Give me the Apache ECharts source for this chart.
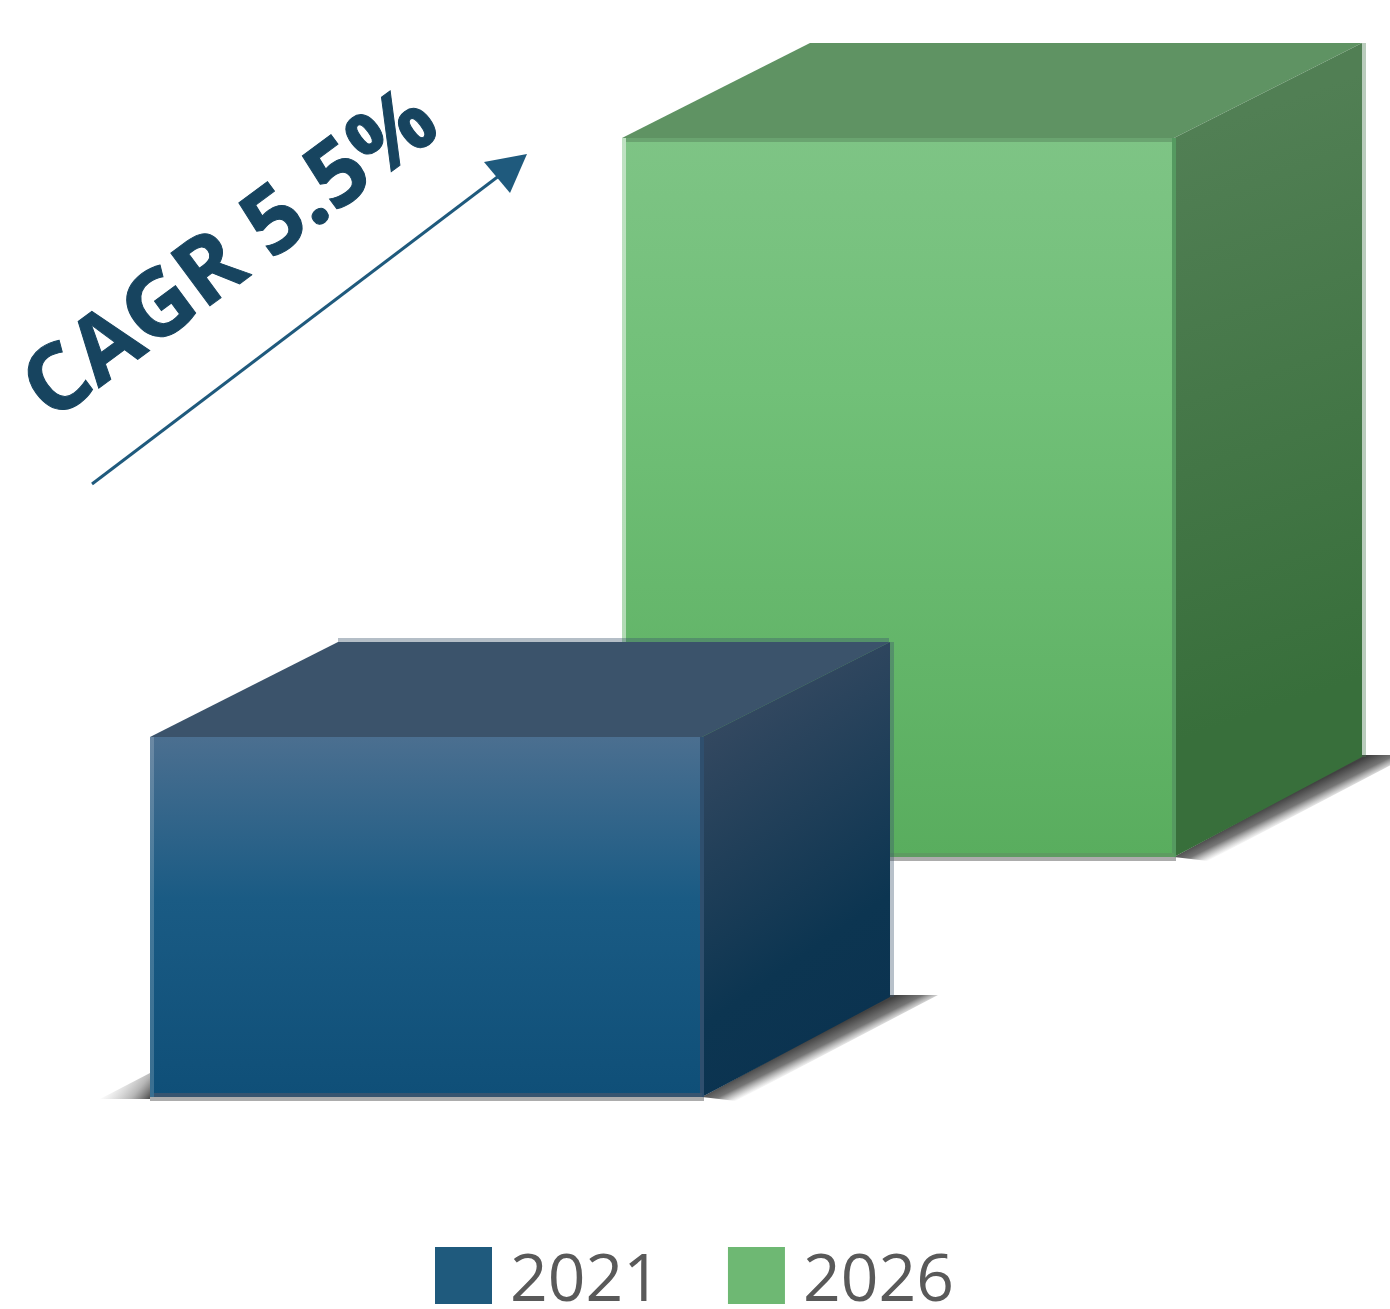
<!DOCTYPE html>
<html>
<head>
<meta charset="utf-8">
<title>CAGR 5.5%</title>
<style>
  html, body { margin: 0; padding: 0; background: #fff; }
  #chart { width: 1390px; height: 1309px; }
</style>
<script src="https://cdn.jsdelivr.net/npm/echarts@6/dist/echarts.min.js"></script>
</head>
<body>
<div id="chart"></div>
<script>
// Market size index by year; the drawing has no value axis, only relative heights
const years = ['2021', '2026'];
const marketIndex2021 = [100];
const marketIndex2026 = [199.7];
const growthLabel = 'CAGR 5.5%';

const DEPTH_X = 188, DEPTH_Y = 95;   // oblique projection of a box's depth
const ROW_LIFT = 240;                // later years stand one row further back
const BOX_W = 552, EDGE = 4;

const palettes = {
  '2021': {
    legend: '#1F5A7D',
    top: '#3B536B',
    rim: 'rgba(59,83,107,0.38)',
    frontTop: 'rgba(0,0,0,0)',
    front: [[0, '#4B6F90'], [0.45, '#1A5B84'], [1, '#0F4F78']],
    side: [[0, '#334860'], [0.72, '#0C3551'], [1, '#0B3350']],
    leftOpacity: 0.82,
    frontRight: '#2F4F6E',
    frontBottom: '#37546F',
    backEdge: 'rgba(59,83,107,0.36)'
  },
  '2026': {
    legend: '#6EB873',
    top: '#5F9363',
    rim: 'rgba(0,0,0,0)',
    frontTop: '#6AA470',
    front: [[0, '#7EC485'], [0.35, '#71C078'], [1, '#59AD5E']],
    side: [[0, '#517F54'], [1, '#386F3B']],
    leftOpacity: 0.5,
    frontRight: '#559A60',
    frontBottom: '#5C9C60',
    backEdge: 'rgba(70,120,78,0.38)'
  }
};

const stops = s => s.map(([offset, color]) => ({ offset, color }));
const gradient = (x, y, x2, y2, s) => ({ type: 'linear', global: true, x, y, x2, y2, colorStops: stops(s) });
const poly = (points, fill, z2) => ({ type: 'polygon', z2, shape: { points }, style: { fill } });
const rect = (x, y, width, height, fill, z2, opacity) => ({
  type: 'rect', z2, shape: { x, y, width, height },
  style: opacity === undefined ? { fill } : { fill, opacity }
});

// Draws one oblique box: its front height comes from the value axis, its row from the year
function renderBox(params, api) {
  const p = palettes[years[api.value(0)]];
  const slot = api.value(0);
  const base = api.coord([slot, 0]);
  const peak = api.coord([slot, api.value(1)]);
  const l = base[0] - BOX_W / 2, r = l + BOX_W;
  const b = base[1] - ROW_LIFT * slot, t = peak[1] - ROW_LIFT * slot;
  const backR = r + DEPTH_X, backL = l + DEPTH_X;
  const backB = b - DEPTH_Y - 5, backT = t - DEPTH_Y;

  const frontFill = gradient(0, t, 0, b, p.front);
  const shadowFade = [[0, 'rgba(62,62,62,0.98)'], [0.5, 'rgba(84,84,84,0.8)'], [1, 'rgba(130,130,130,0)']];
  const children = [
    // Cast shadows at the right-hand side and the front-left corner
    poly([[r, b], [backR, backB - 2], [backR + 48, backB - 2], [r + 34, b + 4]],
      gradient(r, b - 4, r + 10, b + 16, shadowFade), 1),
    poly([[l, b - 24], [l, b + 2], [l - 50, b + 2]],
      gradient(l, b, l - 30, b - 25, [[0, 'rgba(70,70,70,0.92)'], [0.35, 'rgba(110,110,110,0.5)'], [1, 'rgba(160,160,160,0)']]), 1),
    // Soft rim around the back of the box and under the front
    rect(backL, backT - EDGE, BOX_W - 1, EDGE, p.rim, 2),
    rect(backR, backT, EDGE, backB - backT, p.backEdge, 2),
    rect(l, b, BOX_W + 2, EDGE, 'rgba(90,90,90,0.5)', 2),
    // Top face
    poly([[l, t], [backL, backT], [backR, backT], [r, t]], p.top, 3),
    // Side face
    poly([[r, t], [backR, backT], [backR, backB], [r, b]],
      gradient(r, t, backR, t + (b - t) * 0.75, p.side), 3),
    // Front face and its thin edge bands
    rect(l + EDGE, t, BOX_W - EDGE, b - t, frontFill, 4),
    rect(l, t, EDGE, b - t, frontFill, 5, p.leftOpacity),
    rect(l + EDGE, t, BOX_W - EDGE, EDGE, p.frontTop, 5),
    rect(r - EDGE + 2, t, EDGE, b - t, p.frontRight, 5),
    rect(l + EDGE, b - EDGE, BOX_W - EDGE, EDGE, p.frontBottom, 5)
  ];
  return { type: 'group', children };
}

const boxSeries = (name, values, z) => ({
  type: 'custom',
  name,
  z,
  silent: true,
  clip: false,
  coordinateSystem: 'cartesian2d',
  itemStyle: { color: palettes[name].legend },
  encode: { x: 0, y: 1 },
  renderItem: renderBox,
  data: values.map(v => [name, v])
});

const chart = echarts.init(document.getElementById('chart'), null, { renderer: 'canvas' });
chart.setOption({
  animation: false,
  backgroundColor: '#ffffff',
  grid: { left: 190, width: 944, top: 17, height: 1080 },
  xAxis: { type: 'category', data: years, show: false },
  yAxis: { type: 'value', min: 0, max: 300, show: false },
  legend: {
    data: years,
    left: 430,
    top: 1242,
    icon: 'rect',
    itemWidth: 57,
    itemHeight: 57,
    itemGap: 67,
    selectedMode: false,
    formatter: '{year|{name}}',
    textStyle: {
      rich: {
        year: {
          fontFamily: '"Open Sans"',
          fontSize: 66,
          color: '#595959',
          padding: [14, 0, 0, 13]
        }
      }
    }
  },
  series: [
    boxSeries('2021', marketIndex2021, 3),
    boxSeries('2026', marketIndex2026, 2)
  ],
  graphic: [
    {
      type: 'text',
      x: 232,
      y: 257,
      rotation: 36.5 * Math.PI / 180,
      style: {
        text: growthLabel,
        fontFamily: '"Open Sans"',
        fontWeight: 'bold',
        fontSize: 92,
        fill: '#17445F',
        stroke: '#17445F',
        lineWidth: 1,
        align: 'center',
        verticalAlign: 'middle'
      }
    },
    {
      type: 'line',
      shape: { x1: 92, y1: 484, x2: 508, y2: 169 },
      style: { stroke: '#1F5A7D', lineWidth: 3 }
    },
    {
      type: 'polygon',
      shape: { points: [[527, 154], [484, 162], [510, 193]] },
      style: { fill: '#1F5A7D' }
    }
  ]
});
</script>
</body>
</html>
